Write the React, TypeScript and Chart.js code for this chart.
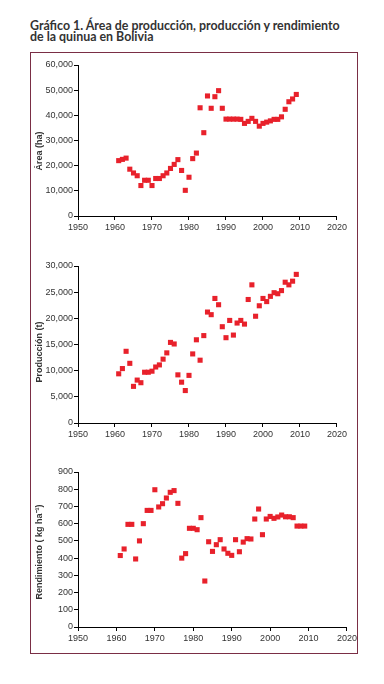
import React, { useEffect, useRef } from "react";
import { Chart, registerables } from "chart.js";

Chart.register(...registerables);

const years = [
  1961, 1962, 1963, 1964, 1965, 1966, 1967, 1968, 1969, 1970,
  1971, 1972, 1973, 1974, 1975, 1976, 1977, 1978, 1979, 1980,
  1981, 1982, 1983, 1984, 1985, 1986, 1987, 1988, 1989, 1990,
  1991, 1992, 1993, 1994, 1995, 1996, 1997, 1998, 1999, 2000,
  2001, 2002, 2003, 2004, 2005, 2006, 2007, 2008, 2009,
];

const area = [
  22000, 22500, 23000, 18600, 17100, 16000, 12100, 14200, 14200, 12100,
  14900, 14900, 16000, 17100, 18900, 20500, 22400, 18100, 10200, 15400,
  22800, 25000, 43000, 33100, 47700, 42800, 47400, 49800, 42800, 38500,
  38500, 38500, 38500, 38400, 36800, 37600, 38800, 37600, 35700, 36800,
  37300, 37800, 38400, 38400, 39400, 42400, 45400, 46500, 48300,
];

const produccion = [
  9400, 10400, 13700, 11400, 7000, 8200, 7700, 9700, 9700, 9900,
  10700, 11100, 12200, 13400, 15400, 15100, 9200, 7800, 6200, 9100,
  13200, 15900, 12000, 16700, 21200, 20700, 23800, 22600, 18400, 16300,
  19600, 16800, 19100, 19600, 18900, 23600, 26400, 20400, 22400, 23800,
  23200, 24200, 24900, 24700, 25300, 26900, 26400, 27100, 28400,
];

const rendimiento = [
  415, 453, 596, 596, 395, 500, 600, 677, 677, 797,
  697, 716, 749, 782, 792, 718, 400, 426, 573, 573,
  565, 635, 267, 495, 439, 478, 507, 453, 428, 416,
  507, 437, 493, 513, 511, 627, 685, 536, 627, 642,
  631, 639, 650, 640, 640, 635, 586, 586, 586,
];

const xTicks = [1950, 1960, 1970, 1980, 1990, 2000, 2010, 2020];
const areaTicks = [0, 10000, 20000, 30000, 40000, 50000, 60000];
const prodTicks = [0, 5000, 10000, 15000, 20000, 25000, 30000];
const rendTicks = [0, 100, 200, 300, 400, 500, 600, 700, 800, 900];

const titleText = "Gráfico 1. Área de producción, producción y rendimiento";
const titleText2 = "de la quinua en Bolivia";
const yTitles = ["Área (ha)", "Producción (t)", "Rendimiento ( kg ha⁻¹)"];

const RED = "#e8212b";
const TEXT = "#333333";
const FONT = "'Liberation Sans', Arial, sans-serif";

function ScatterPanel(props: {
  values: number[];
  yTicks: number[];
  style: React.CSSProperties;
}) {
  const ref = useRef<HTMLCanvasElement | null>(null);
  useEffect(() => {
    if (!ref.current) return;
    const data = years.map((y, i) => ({ x: y, y: props.values[i] }));
    const yMin = props.yTicks[0];
    const yMax = props.yTicks[props.yTicks.length - 1];
    const yStep = props.yTicks[1] - props.yTicks[0];
    const chart = new Chart(ref.current, {
      type: "scatter",
      data: {
        datasets: [
          {
            data,
            pointStyle: "rect",
            pointRadius: 3.6,
            pointHoverRadius: 3.6,
            backgroundColor: RED,
            borderColor: RED,
            borderWidth: 0,
            showLine: false,
          },
        ],
      },
      options: {
        animation: false,
        responsive: true,
        maintainAspectRatio: false,
        events: [],
        layout: { padding: { top: 10, right: 12, bottom: 0, left: 0 } },
        plugins: { legend: { display: false }, tooltip: { enabled: false } },
        scales: {
          x: {
            type: "linear",
            min: xTicks[0],
            max: xTicks[xTicks.length - 1],
            afterBuildTicks: (s: any) => {
              s.ticks = xTicks.map((v) => ({ value: v }));
            },
            afterFit: (s: any) => {
              s.height = 22;
            },
            ticks: {
              callback: (v: any) => String(v),
              color: TEXT,
              font: { family: FONT, size: 9 },
              padding: 2,
              maxRotation: 0,
              autoSkip: false,
            },
            grid: {
              display: true,
              drawOnChartArea: false,
              drawTicks: true,
              tickLength: 4,
              tickColor: "#000",
              color: "#000",
            },
            border: { display: true, color: "#000", width: 1 },
          },
          y: {
            type: "linear",
            min: yMin,
            max: yMax,
            afterBuildTicks: (s: any) => {
              s.ticks = props.yTicks.map((v) => ({ value: v }));
            },
            afterFit: (s: any) => {
              s.width = 46;
            },
            ticks: {
              stepSize: yStep,
              callback: (v: any) => Number(v).toLocaleString("en-US"),
              color: TEXT,
              font: { family: FONT, size: 9 },
              padding: 1,
              autoSkip: false,
            },
            grid: {
              display: true,
              drawOnChartArea: false,
              drawTicks: true,
              tickLength: 4,
              tickColor: "#000",
              color: "#000",
            },
            border: { display: true, color: "#000", width: 1 },
          },
        },
      },
    });
    return () => chart.destroy();
  }, []);
  return (
    <div style={{ position: "absolute", ...props.style }}>
      <canvas ref={ref} />
    </div>
  );
}

function YTitle(props: { text: string; cx: number; cy: number }) {
  return (
    <div
      style={{
        position: "absolute",
        left: props.cx,
        top: props.cy,
        transform: "translate(-50%, -50%) rotate(-90deg)",
        whiteSpace: "nowrap",
        fontFamily: FONT,
        fontWeight: 700,
        fontSize: 9,
        color: TEXT,
        lineHeight: "10px",
      }}
    >
      {props.text}
    </div>
  );
}

export default function App() {
  return (
    <div
      style={{
        position: "absolute",
        left: 0,
        top: 0,
        width: 384,
        height: 684,
        background: "#fff",
        overflow: "hidden",
      }}
    >
      <div
        style={{
          position: "absolute",
          left: 30,
          top: 21,
          fontFamily: "Lato, 'Open Sans', sans-serif",
          fontWeight: 700,
          fontSize: 12.4,
          lineHeight: "10.5px",
          color: TEXT,
          whiteSpace: "nowrap",
        }}
      >
        <div>{titleText}</div>
        <div>{titleText2}</div>
      </div>
      <div
        style={{
          position: "absolute",
          left: 30,
          top: 52,
          width: 328,
          height: 602,
          boxSizing: "border-box",
          border: "1px solid #7a2e45",
        }}
      />
      <ScatterPanel values={area} yTicks={areaTicks} style={{ left: 32, top: 55, width: 317, height: 183 }} />
      <ScatterPanel values={produccion} yTicks={prodTicks} style={{ left: 32, top: 256, width: 317, height: 189 }} />
      <ScatterPanel values={rendimiento} yTicks={rendTicks} style={{ left: 32, top: 462, width: 327, height: 187 }} />
      <YTitle text={yTitles[0]} cx={39} cy={151} />
      <YTitle text={yTitles[1]} cx={39} cy={352} />
      <YTitle text={yTitles[2]} cx={39} cy={552} />
    </div>
  );
}
